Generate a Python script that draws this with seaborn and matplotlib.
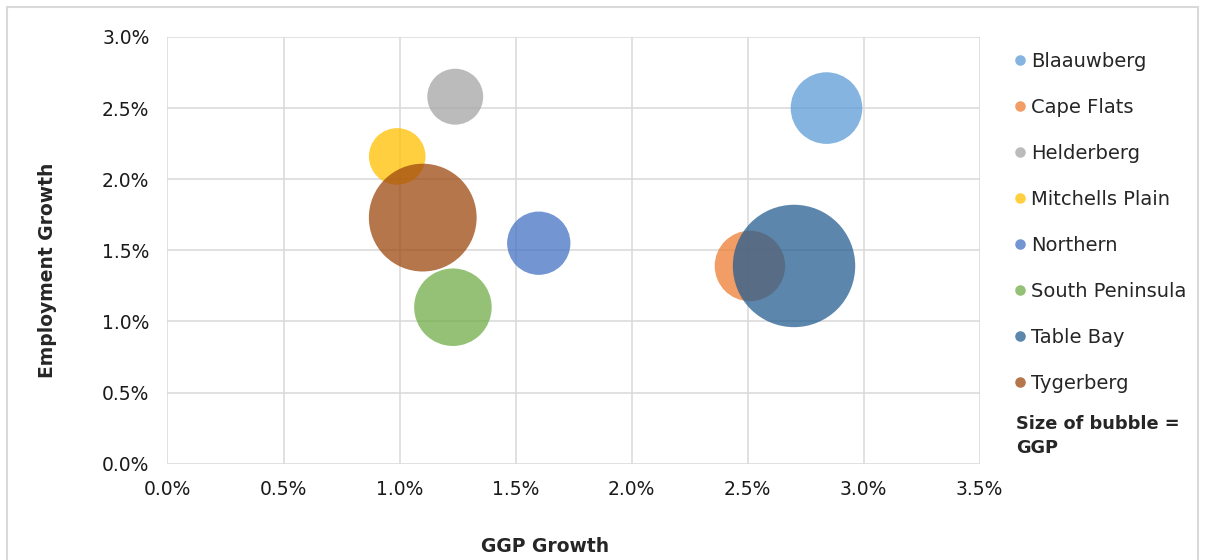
""" Bubble chart: GGP growth vs employment growth by district. """
import matplotlib.pyplot as plt
from matplotlib.lines import Line2D
from matplotlib.ticker import PercentFormatter, MultipleLocator
import pandas as pd
import seaborn as sns

sns.set_style("white")
plt.rcParams['font.family'] = ['DejaVu Sans']

districts = ["Blaauwberg", "Cape Flats", "Helderberg", "Mitchells Plain",
             "Northern", "South Peninsula", "Table Bay", "Tygerberg"]
ggp_growth = [2.84, 2.51, 1.24, 0.99, 1.60, 1.23, 2.70, 1.10]
emp_growth = [2.50, 1.39, 2.58, 2.16, 1.55, 1.10, 1.39, 1.73]
ggp = [64, 62, 39, 40, 50, 75, 187, 145]   # bubble size
colours = ["#5B9BD5", "#ED7D31", "#A5A5A5", "#FFC000",
           "#4472C4", "#70AD47", "#255E91", "#9E480E"]

df = pd.DataFrame({"district": districts, "x": ggp_growth,
                   "y": emp_growth, "ggp": ggp})

fig = plt.figure(figsize=(12.05, 5.6), dpi=100)
ax = fig.add_axes([0.139, 0.172, 0.674, 0.762])

# largest bubble ~122 px across
max_s = (122.4 * 72 / 100) ** 2
sns.scatterplot(data=df, x="x", y="y", hue="district", palette=colours,
                size="ggp", sizes=(0, max_s), size_norm=(0, max(ggp)),
                alpha=0.75, linewidth=0, legend=False, ax=ax, zorder=3)

ax.set_xlim(0, 3.5)
ax.set_ylim(0, 3.0)
ax.xaxis.set_major_locator(MultipleLocator(0.5))
ax.yaxis.set_major_locator(MultipleLocator(0.5))
ax.xaxis.set_major_formatter(PercentFormatter(decimals=1))
ax.yaxis.set_major_formatter(PercentFormatter(decimals=1))
ax.grid(True, color="#D9D9D9", linewidth=1.1, zorder=0)
ax.set_axisbelow(True)
for s in ax.spines.values():
    s.set_visible(False)
ax.tick_params(axis="x", length=0, pad=12, labelsize=13.5, colors="#1a1a1a")
ax.tick_params(axis="y", length=0, pad=13, labelsize=13.5, colors="#1a1a1a")
ax.set_xlabel("")
ax.set_ylabel("")

fig.text(545 / 1205, 1 - 546 / 560, "GGP Growth", ha="center", va="center",
         fontsize=13.5, fontweight="bold")
fig.text(48 / 1205, 1 - 270 / 560, "Employment Growth", ha="center",
         va="center", rotation=90, fontsize=13.5, fontweight="bold")

handles = [Line2D([], [], marker="o", linestyle="", markersize=7.6,
                  markerfacecolor=c, markeredgewidth=0, alpha=0.75)
           for c in colours]
fig.legend(handles, districts, loc="upper left",
           bbox_to_anchor=(1006 / 1205, 1 - 44 / 560), frameon=False,
           fontsize=14, handlelength=0.6, handletextpad=0.3,
           labelspacing=1.39, borderaxespad=0)

fig.text(1016 / 1205, 1 - 436 / 560, "Size of bubble =\nGGP", ha="left",
         va="center", fontsize=12.8, fontweight="bold", linespacing=1.45)

# light frame around the chart
frame = plt.Rectangle((7 / 1205, -0.1), 1 - 14 / 1205, 1.1 - 7 / 560,
                      transform=fig.transFigure, fill=False,
                      edgecolor="#D9D9D9", linewidth=1.5)
fig.patches.append(frame)

fig.savefig("out.png", dpi=100)
